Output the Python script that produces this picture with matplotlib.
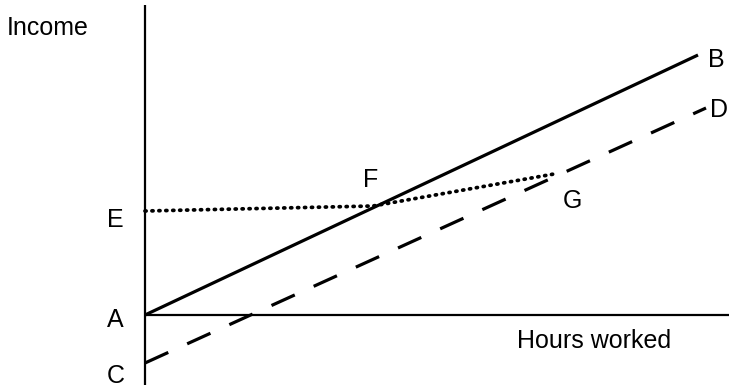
"""
Income vs hours worked -- line diagram
run: python plot.py
"""

import matplotlib
matplotlib.use('Agg')
import matplotlib.pyplot as plt

matplotlib.rc('font', family=['Liberation Sans', 'DejaVu Sans'])

# ── data (origin at A) ────────────────────────────────────────────
hours_ab  = [0, 553]          # A -> B, solid
income_ab = [0, 260]
hours_cd  = [0, 561]          # C -> D, dashed
income_cd = [-48, 207]
hours_efg  = [0, 228, 409]    # E -> F -> G, dotted
income_efg = [104, 109, 141]

point_names = ['A', 'B', 'C', 'D', 'E', 'F', 'G']
x_label = 'Hours worked'
y_label = 'Income'

# label anchors (left, baseline)
label_pos = {
    'A': (-38, -12), 'B': (563, 248), 'C': (-38, -68), 'D': (565, 198),
    'E': (-38, 88), 'F': (218, 128), 'G': (418, 107),
}

# ── figure ───────────────────────────────────────────────────────
fig = plt.figure(figsize=(7.29, 3.89), dpi=100)
ax = fig.add_axes([0, 0, 1, 1])
ax.set_xlim(-145, 584)
ax.set_ylim(-74, 315)
ax.axis('off')

# axes
ax.plot([0, 0], [-70, 310], color='black', lw=1.6, solid_capstyle='butt')
ax.plot([0, 584], [0, 0], color='black', lw=1.6, solid_capstyle='butt')

ax.plot(hours_ab, income_ab, color='black', lw=2.3, solid_capstyle='butt')
ax.plot(hours_cd, income_cd, color='black', lw=2.3, dashes=(8, 6.5))
ax.plot(hours_efg, income_efg, color='black', lw=2.7, dashes=(0.3, 1.55),
        dash_capstyle='round')

fs = 18
for name in point_names:
    x, y = label_pos[name]
    ax.text(x, y, name, fontsize=fs, ha='left', va='baseline')

ax.text(-138, 280, y_label, fontsize=fs, ha='left', va='baseline')
ax.text(372, -33, x_label, fontsize=fs, ha='left', va='baseline')

fig.savefig('out.png', dpi=100)
